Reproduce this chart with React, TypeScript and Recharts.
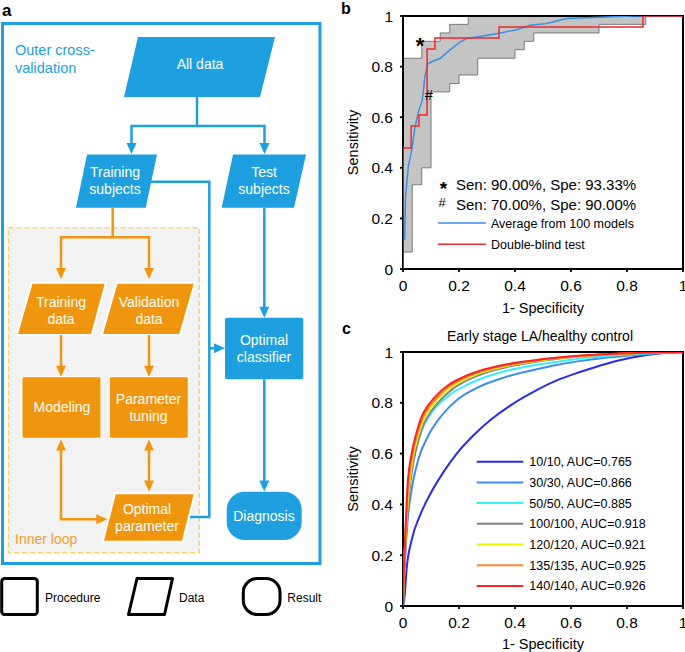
import {
    ComposedChart,
    LineChart,
    Line,
    Area,
    XAxis,
    YAxis,
    ReferenceArea,
    ReferenceDot,
    Legend,
} from "recharts";

const FONT = "'Liberation Sans', Arial, Helvetica, sans-serif";
const BLUE = "#1d9fe0";
const ORANGE = "#f0960e";

const axisTicks = [0, 0.2, 0.4, 0.6, 0.8, 1];

// ---- panel b: spread of the 100 models, step bounds
const bandLowX = [0, 0.033, 0.067, 0.1, 0.167, 0.2, 0.267, 0.4, 0.433, 0.467, 0.7, 0.867, 1];
const bandLowY = [0.067, 0.333, 0.4, 0.7, 0.733, 0.767, 0.833, 0.867, 0.9, 0.933, 0.967, 1, 1];
const bandHighX = [0, 0.067, 0.133, 0.167, 0.233, 1];
const bandHighY = [0.833, 0.9, 0.933, 0.967, 1, 1];

// average ROC from 100 models
const avgFpr = [0.006, 0.009, 0.019, 0.031, 0.043, 0.057, 0.069, 0.078, 0.088, 0.102, 0.132, 0.167, 0.203, 0.227, 0.28, 0.34, 0.406, 0.454, 0.513, 0.584, 0.727, 0.82, 1];
const avgTpr = [0.116, 0.286, 0.405, 0.47, 0.562, 0.628, 0.668, 0.76, 0.81, 0.819, 0.832, 0.865, 0.897, 0.911, 0.92, 0.931, 0.946, 0.963, 0.97, 0.99, 0.996, 1, 1];

// double-blind test ROC (step corners)
const testFpr = [0, 0, 0.029, 0.057, 0.086, 0.114, 0.343, 0.857, 1];
const testTpr = [0, 0.478, 0.565, 0.609, 0.87, 0.913, 0.957, 1, 1];

const starPoint = [0.0667, 0.9];
const hashPoint = [0.1, 0.7];
const bNotes = ["Sen: 90.00%, Spe: 93.33%", "Sen: 70.00%, Spe: 90.00%"];
const bSeriesNames = ["Average from 100 models", "Double-blind test"];

// ---- panel c: ROC curves by training size
const cNames = ["10/10", "30/30", "50/50", "100/100", "120/120", "135/135", "140/140"];
const cAuc = [0.765, 0.866, 0.885, 0.918, 0.921, 0.925, 0.926];
const roc10 = [[0, 0], [0.005, 0.03], [0.013, 0.147], [0.031, 0.26], [0.062, 0.36], [0.097, 0.44], [0.145, 0.528], [0.192, 0.6], [0.252, 0.672], [0.311, 0.731], [0.394, 0.797], [0.466, 0.843], [0.549, 0.888], [0.632, 0.921], [0.727, 0.954], [0.81, 0.976], [0.905, 0.993], [1, 1]];
const roc30 = [[0, 0], [0.004, 0.1], [0.013, 0.29], [0.031, 0.46], [0.055, 0.578], [0.09, 0.67], [0.138, 0.75], [0.197, 0.815], [0.268, 0.861], [0.363, 0.9], [0.458, 0.927], [0.553, 0.95], [0.65, 0.967], [0.75, 0.98], [0.85, 0.99], [0.93, 0.996], [1, 1]];
const roc50 = [[0, 0], [0.003, 0.1], [0.007, 0.239], [0.019, 0.44], [0.037, 0.575], [0.066, 0.69], [0.102, 0.76], [0.161, 0.826], [0.245, 0.879], [0.34, 0.917], [0.458, 0.946], [0.553, 0.962], [0.65, 0.976], [0.75, 0.986], [0.85, 0.993], [1, 1]];
const roc100 = [[0, 0], [0.004, 0.13], [0.008, 0.21], [0.013, 0.3], [0.022, 0.44], [0.038, 0.57], [0.056, 0.655], [0.074, 0.715], [0.099, 0.764], [0.135, 0.812], [0.17, 0.848], [0.218, 0.882], [0.29, 0.916], [0.372, 0.941], [0.465, 0.96], [0.56, 0.974], [0.655, 0.984], [0.75, 0.991], [0.85, 0.996], [1, 1]];
const roc120 = [[0, 0], [0.003, 0.14], [0.007, 0.22], [0.011, 0.3], [0.02, 0.45], [0.035, 0.58], [0.053, 0.667], [0.07, 0.727], [0.095, 0.775], [0.13, 0.822], [0.166, 0.857], [0.214, 0.889], [0.285, 0.921], [0.368, 0.945], [0.462, 0.963], [0.557, 0.976], [0.65, 0.985], [0.75, 0.992], [0.85, 0.996], [1, 1]];
const roc135 = [[0, 0], [0.003, 0.15], [0.006, 0.22], [0.01, 0.3], [0.018, 0.46], [0.033, 0.59], [0.051, 0.676], [0.068, 0.735], [0.092, 0.782], [0.128, 0.829], [0.163, 0.863], [0.211, 0.894], [0.282, 0.925], [0.365, 0.948], [0.46, 0.965], [0.555, 0.977], [0.65, 0.986], [0.75, 0.992], [0.85, 0.996], [1, 1]];
const roc140 = [[0, 0], [0.002, 0.12], [0.005, 0.2], [0.009, 0.3], [0.016, 0.47], [0.031, 0.6], [0.049, 0.685], [0.066, 0.744], [0.09, 0.79], [0.126, 0.836], [0.161, 0.869], [0.209, 0.898], [0.28, 0.928], [0.363, 0.95], [0.458, 0.966], [0.553, 0.978], [0.65, 0.987], [0.75, 0.993], [0.85, 0.997], [1, 1]];
const cCurves = [roc10, roc30, roc50, roc100, roc120, roc135, roc140];
const cColors = ["#2a2af0", "#3a8cf2", "#3ceef6", "#858585", "#f2f200", "#ff8a30", "#ff2222"];

const stepAt = (xs: number[], ys: number[], x: number) => {
    let v = ys[0];
    xs.forEach((bx, i) => {
        if (bx <= x) v = ys[i];
    });
    return v;
};
const bandX = Array.from(new Set([...bandLowX, ...bandHighX])).sort((a, b) => a - b);
const bandData = bandX.map((x) => ({
    x,
    range: [stepAt(bandLowX, bandLowY, x), stepAt(bandHighX, bandHighY, x)],
}));
const avgData = avgFpr.map((x, i) => ({ x, y: avgTpr[i] }));
const testData = testFpr.map((x, i) => ({ x, y: testTpr[i] }));

const tickStyle = { fontSize: 15.5, fill: "#000", fontFamily: FONT };
const tickLineStyle = { stroke: "#000", strokeWidth: 1.8 };

const yTitle = (props: any) => {
    const vb = props.viewBox || { y: 16, height: 253 };
    const cx = 18;
    const cy = vb.y + vb.height / 2;
    return (
        <text x={cx} y={cy} transform={`rotate(-90, ${cx}, ${cy})`} textAnchor="middle" fontSize={14.5} fontFamily={FONT} fill="#000">
            Sensitivity
        </text>
    );
};

const xTitle = (baseline: number) => (props: any) => {
    const vb = props.viewBox || { x: 63, width: 280 };
    return (
        <text x={vb.x + vb.width / 2} y={baseline} textAnchor="middle" fontSize={14.5} fontFamily={FONT} fill="#000">
            1- Specificity
        </text>
    );
};

const BLegend = () => (
    <svg width={230} height={90} style={{ overflow: "visible", display: "block" }}>
        <text x={13.5} y={25} textAnchor="middle" fontSize={19} fontWeight="bold" fontFamily={FONT}>*</text>
        <text x={26} y={20.4} fontSize={15} fontFamily={FONT}>{bNotes[0]}</text>
        <text x={12} y={36.5} textAnchor="middle" fontSize={13} fontFamily={FONT}>#</text>
        <text x={26} y={40.4} fontSize={15} fontFamily={FONT}>{bNotes[1]}</text>
        <line x1={8} x2={56} y1={53} y2={53} stroke="#3a8ee6" strokeWidth={1.5} />
        <text x={61} y={57.5} fontSize={12.5} fontFamily={FONT}>{bSeriesNames[0]}</text>
        <line x1={8} x2={56} y1={74.3} y2={74.3} stroke="#ee2a2a" strokeWidth={1.5} />
        <text x={61} y={78.8} fontSize={12.5} fontFamily={FONT}>{bSeriesNames[1]}</text>
    </svg>
);

const CLegend = () => (
    <svg width={200} height={150} style={{ overflow: "visible", display: "block" }}>
        {cNames.map((n, i) => (
            <g key={n}>
                <line x1={6.7} x2={53.3} y1={11.7 + 20.7 * i} y2={11.7 + 20.7 * i} stroke={cColors[i]} strokeWidth={2} />
                <text x={59.3} y={16.2 + 20.7 * i} fontSize={12.5} fontFamily={FONT}>
                    {`${n}, AUC=${cAuc[i].toFixed(3)}`}
                </text>
            </g>
        ))}
    </svg>
);

const PanelB = () => (
    <ComposedChart width={345} height={320} data={bandData} margin={{ top: 16, right: 2, left: 0, bottom: 0 }}>
        <XAxis type="number" dataKey="x" domain={[0, 1]} ticks={axisTicks} interval={0} allowDataOverflow
            tickSize={3} tickMargin={7.5} tickLine={tickLineStyle} axisLine={false}
            tick={tickStyle} height={51} label={xTitle(313)} />
        <YAxis type="number" domain={[0, 1]} ticks={axisTicks} interval={0} allowDataOverflow
            tickSize={3} tickMargin={7} tickLine={tickLineStyle} axisLine={false}
            tick={tickStyle} width={63} label={yTitle} />
        <Area dataKey="range" type="stepAfter" fill="#c4c4c4" fillOpacity={1} stroke="#7a7a7a" strokeWidth={1} isAnimationActive={false} />
        <ReferenceArea x1={0} x2={1} y1={0} y2={1} fill="none" stroke="#000" strokeWidth={2} ifOverflow="visible" />
        <Line data={avgData} dataKey="y" type="linear" stroke="#3a8ee6" strokeWidth={1.5} dot={false} isAnimationActive={false} />
        <Line data={testData} dataKey="y" type="stepAfter" stroke="#ee2a2a" strokeWidth={1.5} dot={false} isAnimationActive={false} />
        <ReferenceDot x={starPoint[0]} y={starPoint[1]} r={0} shape={(p: any) => (
            <text x={p.cx - 1.7} y={p.cy + 12} textAnchor="middle" fontSize={22} fontWeight="bold" fontFamily={FONT}>*</text>
        )} />
        <ReferenceDot x={hashPoint[0]} y={hashPoint[1]} r={0} shape={(p: any) => (
            <text x={p.cx - 2} y={p.cy + 8} textAnchor="middle" fontSize={14} fontFamily={FONT}>#</text>
        )} />
        <Legend layout="vertical" align="center" verticalAlign="middle"
            wrapperStyle={{ left: 90, top: 170, width: 230, height: 90 }} content={() => <BLegend />} />
    </ComposedChart>
);

const PanelC = () => (
    <LineChart width={345} height={332} margin={{ top: 32, right: 2, left: 0, bottom: 0 }}>
        <XAxis type="number" dataKey="x" domain={[0, 1]} ticks={axisTicks} interval={0} allowDataOverflow
            tickSize={3} tickMargin={7.5} tickLine={tickLineStyle} axisLine={false}
            tick={tickStyle} height={46} label={xTitle(329)} />
        <YAxis type="number" domain={[0, 1]} ticks={axisTicks} interval={0} allowDataOverflow
            tickSize={3} tickMargin={7} tickLine={tickLineStyle} axisLine={false}
            tick={tickStyle} width={63} label={yTitle} />
        <ReferenceArea x1={0} x2={1} y1={0} y2={1} fill="none" stroke="#000" strokeWidth={2} ifOverflow="visible" />
        {cCurves.map((pts, i) => (
            <Line key={cNames[i]} data={pts.map(([x, y]) => ({ x, y }))} dataKey="y" type="monotone"
                stroke={cColors[i]} strokeWidth={2} dot={false} isAnimationActive={false} />
        ))}
        <Legend layout="vertical" align="center" verticalAlign="middle"
            wrapperStyle={{ left: 130, top: 130, width: 200, height: 150 }} content={() => <CLegend />} />
    </LineChart>
);

const arrowDown = (x: number, y: number, c: string) => (
    <polygon points={`${x - 5},${y - 11} ${x + 5},${y - 11} ${x},${y}`} fill={c} />
);
const arrowUp = (x: number, y: number, c: string) => (
    <polygon points={`${x - 5},${y + 11} ${x + 5},${y + 11} ${x},${y}`} fill={c} />
);
const arrowRight = (x: number, y: number, c: string) => (
    <polygon points={`${x - 11},${y - 5} ${x - 11},${y + 5} ${x},${y}`} fill={c} />
);

const W = { fill: "#fff", fontSize: 14, fontFamily: FONT, textAnchor: "middle" as const };

const FlowChart = () => (
    <svg width={340} height={652} style={{ position: "absolute", left: 0, top: 0 }}>
        <text x={2} y={16} fontSize={17} fontWeight="bold" fontFamily={FONT}>a</text>
        <rect x={2.5} y={23.5} width={317.5} height={540} fill="none" stroke={BLUE} strokeWidth={3} />
        <text x={15} y={55} fontSize={14.5} fill={BLUE} fontFamily={FONT}>Outer cross-</text>
        <text x={15} y={73} fontSize={14.5} fill={BLUE} fontFamily={FONT}>validation</text>

        {/* outer split */}
        <polygon points="138,37 275,37 260,97 124,97" fill={BLUE} />
        <text x={200} y={69} {...W}>All data</text>
        <polyline points="197,97 197,126" stroke={BLUE} strokeWidth={2.5} fill="none" />
        <polyline points="131.5,146 131.5,126 264.5,126 264.5,146" stroke={BLUE} strokeWidth={2.5} fill="none" />
        {arrowDown(131.5, 154, BLUE)}
        {arrowDown(264.5, 154, BLUE)}

        {/* inner loop box */}
        <rect x={8.5} y={227.7} width={190.8} height={325} fill="#f2f2f2" stroke="#fcd06a" strokeWidth={1.5} strokeDasharray="5 3" />
        <text x={15} y={544} fontSize={14} fill="#f0a030" fontFamily={FONT}>Inner loop</text>

        <polygon points="87,154.5 157,154.5 145.7,207.7 76,207.7" fill={BLUE} />
        <text x={115} y={177} {...W}>Training</text>
        <text x={115} y={194} {...W}>subjects</text>
        <polygon points="233,154.5 306,154.5 294,207.7 221.7,207.7" fill={BLUE} />
        <text x={264} y={177} {...W}>Test</text>
        <text x={264} y={194} {...W}>subjects</text>

        <polyline points="151,181.7 209.3,181.7 209.3,517 189,517" stroke={BLUE} strokeWidth={2.5} fill="none" />
        <line x1={209.3} y1={348.3} x2={216} y2={348.3} stroke={BLUE} strokeWidth={2.5} />
        {arrowRight(225, 348.3, BLUE)}
        <line x1={264.3} y1={207.7} x2={264.3} y2={308} stroke={BLUE} strokeWidth={2.5} />
        {arrowDown(264.3, 317.7, BLUE)}
        <rect x={225} y={317.7} width={78.3} height={61.6} rx={2} fill={BLUE} />
        <text x={264} y={345} {...W}>Optimal</text>
        <text x={264} y={362} {...W}>classifier</text>
        <line x1={264.3} y1={379.3} x2={264.3} y2={482} stroke={BLUE} strokeWidth={2.5} />
        {arrowDown(264.3, 491.5, BLUE)}
        <rect x={226.7} y={491.7} width={75} height={48.3} rx={18} fill={BLUE} />
        <text x={264} y={520.5} {...W}>Diagnosis</text>

        {/* inner split */}
        <polyline points="112.7,207.7 112.7,237.3" stroke={ORANGE} strokeWidth={2.5} fill="none" />
        <polyline points="61,270 61,237.3 149,237.3 149,270" stroke={ORANGE} strokeWidth={2.5} fill="none" />
        {arrowDown(61, 279, ORANGE)}
        {arrowDown(149, 279, ORANGE)}
        <polygon points="31.7,282.7 106,282.7 91.7,335 16.7,335" fill={ORANGE} stroke="#fff" strokeWidth={2} />
        <text x={61} y={307} {...W}>Training</text>
        <text x={61} y={324} {...W}>data</text>
        <polygon points="116.7,282.7 195,282.7 180,335 101.7,335" fill={ORANGE} stroke="#fff" strokeWidth={2} />
        <text x={149} y={307} {...W}>Validation</text>
        <text x={149} y={324} {...W}>data</text>
        <line x1={61} y1={335} x2={61} y2={368} stroke={ORANGE} strokeWidth={2.5} />
        {arrowDown(61, 376.7, ORANGE)}
        <line x1={149} y1={335} x2={149} y2={368} stroke={ORANGE} strokeWidth={2.5} />
        {arrowDown(149, 376.7, ORANGE)}

        <rect x={22} y={376.7} width={79} height={61.6} rx={2} fill={ORANGE} stroke="#fff" strokeWidth={1} />
        <text x={62} y={412} {...W}>Modeling</text>
        <rect x={109.3} y={376.7} width={79} height={61.6} rx={2} fill={ORANGE} stroke="#fff" strokeWidth={1} />
        <text x={148.5} y={404} {...W}>Parameter</text>
        <text x={148.5} y={421} {...W}>tuning</text>

        <polyline points="61,448 61,519.3 98,519.3" stroke={ORANGE} strokeWidth={2.5} fill="none" />
        {arrowUp(61, 439.5, ORANGE)}
        {arrowRight(107.3, 519.3, ORANGE)}
        <line x1={149} y1={448} x2={149} y2={482} stroke={ORANGE} strokeWidth={2.5} />
        {arrowUp(149, 439.5, ORANGE)}
        {arrowDown(149, 491.5, ORANGE)}
        <polygon points="115,493.3 195,493.3 182.7,541.7 102.7,541.7" fill={ORANGE} stroke="#fff" strokeWidth={2} />
        <text x={147} y={514} {...W}>Optimal</text>
        <text x={147} y={531} {...W}>parameter</text>

        {/* symbol key */}
        <rect x={1.7} y={578.5} width={35.6} height={36} rx={3} fill="#fff" stroke="#000" strokeWidth={3} />
        <text x={45} y={602} fontSize={12} fontFamily={FONT}>Procedure</text>
        <polygon points="137,578.5 172.5,578.5 164.5,614.5 128.5,614.5" fill="#fff" stroke="#000" strokeWidth={3} strokeLinejoin="round" />
        <text x={179} y={602} fontSize={12} fontFamily={FONT}>Data</text>
        <rect x={243.3} y={578.5} width={36.7} height={36} rx={14} fill="#fff" stroke="#000" strokeWidth={3} />
        <text x={287.3} y={602} fontSize={12} fontFamily={FONT}>Result</text>
    </svg>
);

export default function App() {
    return (
        <div style={{ position: "absolute", left: 0, top: 0, width: 685, height: 652, background: "#fff", fontFamily: FONT }}>
            <FlowChart />
            <div style={{ position: "absolute", left: 340, top: 0 }}>
                <PanelB />
            </div>
            <div style={{ position: "absolute", left: 340, top: 320 }}>
                <PanelC />
            </div>
            <div style={{ position: "absolute", left: 341, top: 0, fontSize: 16, lineHeight: "17px", fontWeight: "bold" }}>b</div>
            <div style={{ position: "absolute", left: 342, top: 320, fontSize: 16, lineHeight: "17px", fontWeight: "bold" }}>c</div>
            <div style={{ position: "absolute", left: 340, top: 328, width: 400, textAlign: "center", fontSize: 14, lineHeight: "17px" }}>
                Early stage LA/healthy control
            </div>
        </div>
    );
}
